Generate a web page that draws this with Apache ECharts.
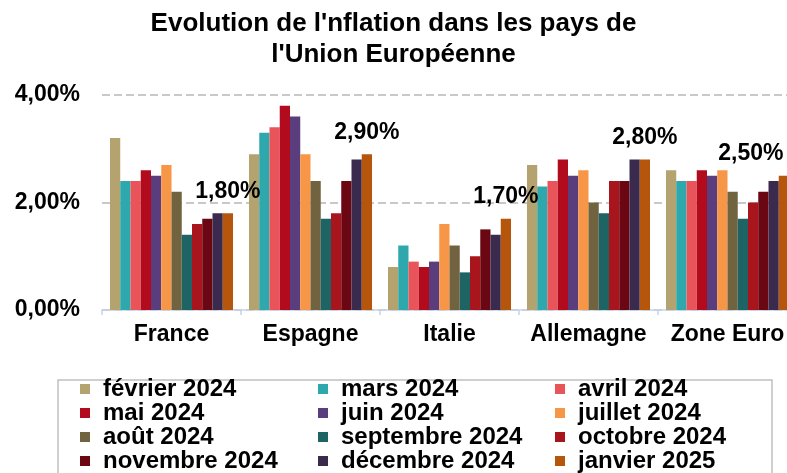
<!DOCTYPE html>
<html>
<head>
<meta charset="utf-8">
<script src="https://cdn.jsdelivr.net/npm/echarts@6/dist/echarts.min.js"></script>
<style>
    html, body {margin: 0; padding: 0; background: #fff;}
    #chart {width: 787px; height: 473px;}
</style>
</head>
<body>
<div id="chart"></div>
<script>
// pays
var categories = ['France', 'Espagne', 'Italie', 'Allemagne', 'Zone Euro'];
// mois (ordre des séries)
var months = ['février 2024', 'mars 2024', 'avril 2024', 'mai 2024', 'juin 2024', 'juillet 2024',
    'août 2024', 'septembre 2024', 'octobre 2024', 'novembre 2024', 'décembre 2024', 'janvier 2025'];

// inflation en % : France, Espagne, Italie, Allemagne, Zone Euro
var fev2024 = [3.2, 2.9, 0.8, 2.7, 2.6];
var mars2024 = [2.4, 3.3, 1.2, 2.3, 2.4];
var avril2024 = [2.4, 3.4, 0.9, 2.4, 2.4];
var mai2024 = [2.6, 3.8, 0.8, 2.8, 2.6];
var juin2024 = [2.5, 3.6, 0.9, 2.5, 2.5];
var juillet2024 = [2.7, 2.9, 1.6, 2.6, 2.6];
var aout2024 = [2.2, 2.4, 1.2, 2.0, 2.2];
var sept2024 = [1.4, 1.7, 0.7, 1.8, 1.7];
var oct2024 = [1.6, 1.8, 1.0, 2.4, 2.0];
var nov2024 = [1.7, 2.4, 1.5, 2.4, 2.2];
var dec2024 = [1.8, 2.8, 1.4, 2.8, 2.4];
var jan2025 = [1.8, 2.9, 1.7, 2.8, 2.5];

var allValues = [fev2024, mars2024, avril2024, mai2024, juin2024, juillet2024,
    aout2024, sept2024, oct2024, nov2024, dec2024, jan2025];

var colors = ['#B5A36F', '#2EA8AC', '#E9545A', '#B20B1E', '#5A3D7C', '#F79646',
    '#71633F', '#1F6465', '#A8151C', '#6B0713', '#3A2A4D', '#B5560C'];

var FONT = 'Liberation Sans, Arial, sans-serif';

function pct(v) {
    return v.toFixed(2).replace('.', ',') + '%';
}

var series = [];
for (var i = 0; i < months.length; i++) {
    var s = {
        name: months[i],
        type: 'bar',
        barGap: '0%',
        barCategoryGap: '11.5%',
        itemStyle: {color: colors[i]},
        data: allValues[i]
    };
    if (i === months.length - 1) {
        // seule la dernière série a des étiquettes
        s.data = allValues[i].map(function (v, k) {
            var d = {value: v};
            if (k === allValues[i].length - 1) d.label = {offset: [-33, 0]};
            return d;
        });
        s.label = {
            show: true,
            position: 'top',
            distance: 10,
            fontFamily: FONT,
            fontWeight: 'bold',
            fontSize: 23,
            color: '#000',
            formatter: function (p) { return pct(p.value); }
        };
    }
    series.push(s);
}

function legendCol(names, left) {
    return {
        orient: 'vertical',
        left: left,
        top: 377,
        padding: 0,
        itemGap: 0,
        itemWidth: 10,
        itemHeight: 10,
        icon: 'rect',
        selectedMode: false,
        data: names,
        textStyle: {
            fontFamily: FONT,
            fontWeight: 'bold',
            fontSize: 24,
            lineHeight: 23,
            color: '#000',
            padding: [0, 0, 0, 8]
        }
    };
}

var myChart = echarts.init(document.getElementById('chart'));
var option = {
    animation: false,
    title: {
        text: "Evolution de l'nflation dans les pays de\nl'Union Européenne",
        left: 'center',
        top: 8,
        padding: 0,
        textStyle: {
            fontFamily: FONT,
            fontWeight: 'bold',
            fontSize: 26,
            lineHeight: 31,
            color: '#000'
        }
    },
    legend: [
        legendCol([months[0], months[3], months[6], months[9]], 80),
        legendCol([months[1], months[4], months[7], months[10]], 318),
        legendCol([months[2], months[5], months[8], months[11]], 555)
    ],
    graphic: [
        {
            type: 'rect',
            shape: {x: 58, y: 380, width: 714, height: 120},
            style: {fill: 'none', stroke: '#c0c0c0', lineWidth: 1.5},
            silent: true
        }
    ],
    grid: {
        left: 102,
        width: 695,
        top: 95,
        bottom: 163,
        outerBoundsMode: 'none'
    },
    xAxis: {
        type: 'category',
        data: categories,
        axisLine: {lineStyle: {color: '#c5d3ea', width: 1.5}},
        axisTick: {show: true, length: 5, lineStyle: {color: '#c5d3ea', width: 1.5}},
        axisLabel: {
            interval: 0,
            margin: 13,
            fontFamily: FONT,
            fontWeight: 'bold',
            fontSize: 23,
            color: '#000'
        }
    },
    yAxis: {
        type: 'value',
        min: 0,
        max: 4,
        interval: 2,
        axisLine: {show: false},
        axisTick: {show: false},
        splitLine: {
            lineStyle: {color: '#c8c8c8', width: 2, type: [8, 4]}
        },
        axisLabel: {
            margin: 22,
            fontFamily: FONT,
            fontWeight: 'bold',
            fontSize: 23,
            color: '#000',
            formatter: function (v) { return pct(v); }
        }
    },
    series: series
};
myChart.setOption(option);
</script>
</body>
</html>
